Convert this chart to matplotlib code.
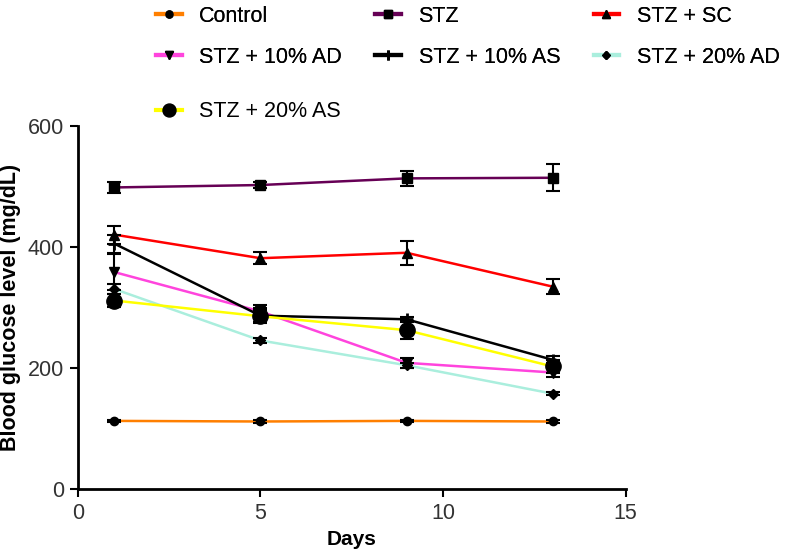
import matplotlib.pyplot as plt
from matplotlib.lines import Line2D

plt.rcParams['font.family'] = ['Liberation Sans', 'DejaVu Sans']

# data
days = [1, 5, 9, 13]
labels = ['Control', 'STZ', 'STZ + SC',
          'STZ + 10% AD', 'STZ + 10% AS', 'STZ + 20% AD',
          'STZ + 20% AS']
control = [112, 111, 112, 111]
stz = [498, 502, 513, 514]
stz_sc = [420, 381, 390, 334]
stz_10ad = [358, 293, 208, 192]
stz_10as = [405, 286, 280, 213]
stz_20ad = [330, 245, 204, 157]
stz_20as = [311, 285, 262, 202]

control_err = [2, 2, 2, 2]
stz_err = [9, 5, 12, 22]
stz_sc_err = [15, 10, 20, 12]
stz_10ad_err = [30, 10, 8, 8]
stz_10as_err = [15, 12, 4, 6]
stz_20ad_err = [8, 4, 4, 3]
stz_20as_err = [10, 10, 15, 10]

series = [control, stz, stz_sc, stz_10ad, stz_10as, stz_20ad, stz_20as]
errors = [control_err, stz_err, stz_sc_err, stz_10ad_err, stz_10as_err,
          stz_20ad_err, stz_20as_err]
colors = ['#ff7f00', '#660055', '#ff0000', '#ff44dd', '#000000', '#aaeedd', '#ffff00']
markers = ['o', 's', '^', 'v', '+', 'D', 'o']
msizes = [6, 7, 7, 7, 8, 5, 11]

fig = plt.figure(figsize=(7.87, 5.54), dpi=100)
ax = fig.add_axes([0.099, 0.118, 0.696, 0.655])

for y, e, c, m, s in zip(series, errors, colors, markers, msizes):
    ax.errorbar(days, y, yerr=e, fmt='none', ecolor='black', elinewidth=1.5,
                capsize=5, capthick=1.5, zorder=3)
    ax.plot(days, y, color=c, lw=1.8, zorder=2)
    ax.plot(days, y, ls='none', marker=m, ms=s, color='black',
            markeredgewidth=2 if m == '+' else 1, zorder=4)

ax.set_xlim(0, 15)
ax.set_ylim(0, 600)
ax.set_xticks([0, 5, 10, 15])
ax.set_yticks([0, 200, 400, 600])
ax.spines['top'].set_visible(False)
ax.spines['right'].set_visible(False)
ax.spines['left'].set_linewidth(2)
ax.spines['bottom'].set_linewidth(2)
ax.tick_params(width=1.5, length=6, pad=4, labelsize=15.5, colors='black',
               labelcolor='#333333')
ax.set_xlabel('Days', fontsize=15, fontweight='bold', labelpad=5)
ax.set_ylabel('Blood glucose level (mg/dL)', fontsize=15.5, fontweight='bold',
              labelpad=5)

handles = []
for c, m, s in zip(colors, markers, msizes):
    handles.append(Line2D([], [], color=c, lw=3, marker=m, ms=s * 0.85,
                          mfc='black', mec='black',
                          markeredgewidth=2 if m == '+' else 1))

# row-wise order for the first two rows (legend fills by column)
order = [0, 3, 1, 4, 2, 5]
leg1 = fig.legend([handles[i] for i in order], [labels[i] for i in order],
                  ncol=3, loc='upper left',
                  bbox_to_anchor=(0.174, 1.025), frameon=False, fontsize=15.5,
                  handlelength=1.2, handletextpad=0.8, columnspacing=1.55,
                  labelspacing=0.95)
fig.add_artist(leg1)
fig.legend(handles[6:], labels[6:], loc='upper left',
           bbox_to_anchor=(0.174, 0.852), frameon=False, fontsize=15.5,
           handlelength=1.2, handletextpad=0.8)

fig.savefig('out.png', dpi=100)
